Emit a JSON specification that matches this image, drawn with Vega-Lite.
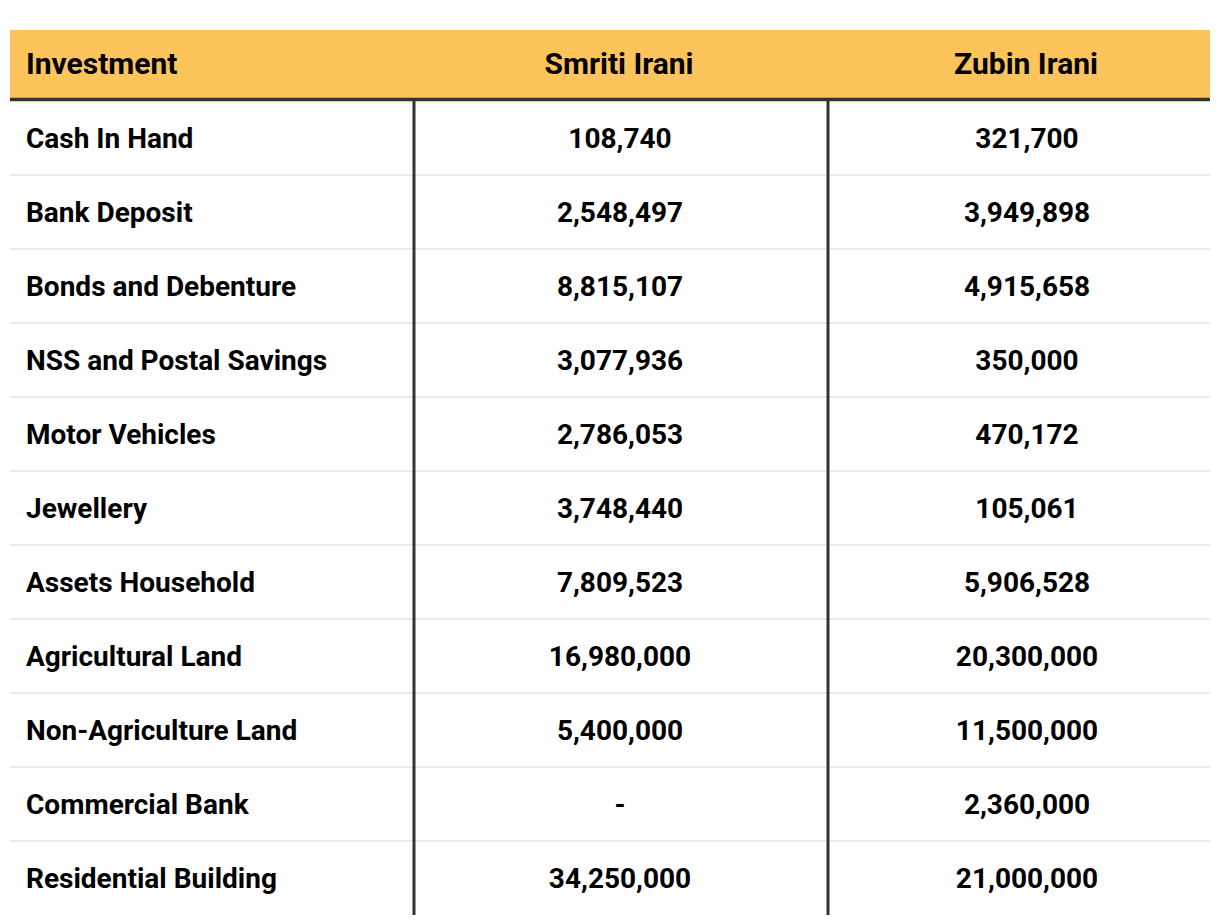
{
  "$schema": "https://vega.github.io/schema/vega-lite/v6.json",
  "background": "white",
  "bounds": "flush",
  "padding": {"left": 8, "top": 30, "right": 10, "bottom": 0},
  "spacing": 0,
  "config": {
    "view": {"stroke": null},
    "text": {"font": "Roboto", "fontWeight": "bold", "fontSize": 28, "color": "#000000"}
  },
  "datasets": {
    "assets": [
      {"Investment": "Cash In Hand", "Smriti": 108740, "Zubin": 321700},
      {"Investment": "Bank Deposit", "Smriti": 2548497, "Zubin": 3949898},
      {"Investment": "Bonds and Debenture", "Smriti": 8815107, "Zubin": 4915658},
      {"Investment": "NSS and Postal Savings", "Smriti": 3077936, "Zubin": 350000},
      {"Investment": "Motor Vehicles", "Smriti": 2786053, "Zubin": 470172},
      {"Investment": "Jewellery", "Smriti": 3748440, "Zubin": 105061},
      {"Investment": "Assets Household", "Smriti": 7809523, "Zubin": 5906528},
      {"Investment": "Agricultural Land", "Smriti": 16980000, "Zubin": 20300000},
      {"Investment": "Non-Agriculture Land", "Smriti": 5400000, "Zubin": 11500000},
      {"Investment": "Commercial Bank", "Smriti": null, "Zubin": 2360000},
      {"Investment": "Residential Building", "Smriti": 34250000, "Zubin": 21000000}
    ],
    "columns": [
      {"column": "Investment"},
      {"column": "Smriti Irani"},
      {"column": "Zubin Irani"}
    ]
  },
  "vconcat": [
    {
      "width": 1200,
      "height": 71,
      "view": {"fill": "#FEC45C", "stroke": null},
      "data": {"name": "columns"},
      "layer": [
        {
          "transform": [{"filter": "datum.column == 'Investment'"}],
          "mark": {"type": "text", "align": "left", "dx": 16, "dy": -1, "fontSize": 30},
          "encoding": {
            "x": {"datum": "Investment", "type": "nominal", "bandPosition": 0, "axis": null,
                  "scale": {"type": "band", "domain": ["Investment", "Smriti Irani", "Zubin Irani"], "paddingInner": 0, "paddingOuter": 0}},
            "text": {"field": "column", "type": "nominal"}
          }
        },
        {
          "transform": [{"filter": "datum.column == 'Smriti Irani'"}],
          "mark": {"type": "text", "align": "center", "dx": 9, "dy": -1, "fontSize": 30},
          "encoding": {
            "x": {"datum": "Smriti Irani", "type": "nominal", "axis": null},
            "text": {"field": "column", "type": "nominal"}
          }
        },
        {
          "transform": [{"filter": "datum.column == 'Zubin Irani'"}],
          "mark": {"type": "text", "align": "center", "dx": 16, "dy": -1, "fontSize": 30},
          "encoding": {
            "x": {"datum": "Zubin Irani", "type": "nominal", "axis": null},
            "text": {"field": "column", "type": "nominal"}
          }
        }
      ]
    },
    {
      "width": 1200,
      "height": 814,
      "data": {"name": "assets"},
      "layer": [
        {
          "transform": [{"filter": "datum.Investment != 'Cash In Hand'"}],
          "mark": {"type": "rule", "color": "#ebebeb", "strokeWidth": 1.8},
          "encoding": {
            "y": {"field": "Investment", "type": "nominal", "bandPosition": 0, "axis": null,
                  "scale": {"domain": ["Cash In Hand", "Bank Deposit", "Bonds and Debenture", "NSS and Postal Savings", "Motor Vehicles", "Jewellery", "Assets Household", "Agricultural Land", "Non-Agriculture Land", "Commercial Bank", "Residential Building"], "paddingInner": 0, "paddingOuter": 0}}
          }
        },
        {
          "mark": {"type": "text", "align": "left", "dx": 16, "dy": 2},
          "encoding": {
            "x": {"datum": "Investment", "type": "nominal", "bandPosition": 0, "axis": null,
                  "scale": {"type": "band", "domain": ["Investment", "Smriti Irani", "Zubin Irani"], "paddingInner": 0, "paddingOuter": 0}},
            "y": {"field": "Investment", "type": "nominal", "axis": null},
            "text": {"field": "Investment", "type": "nominal"}
          }
        },
        {
          "mark": {"type": "text", "align": "center", "dx": 10, "dy": 2},
          "encoding": {
            "x": {"datum": "Smriti Irani", "type": "nominal", "axis": null},
            "y": {"field": "Investment", "type": "nominal", "axis": null},
            "text": {"condition": {"test": "datum.Smriti == null", "value": "-"}, "field": "Smriti", "type": "quantitative", "format": ","}
          }
        },
        {
          "mark": {"type": "text", "align": "center", "dx": 17, "dy": 2},
          "encoding": {
            "x": {"datum": "Zubin Irani", "type": "nominal", "axis": null},
            "y": {"field": "Investment", "type": "nominal", "axis": null},
            "text": {"field": "Zubin", "type": "quantitative", "format": ","}
          }
        },
        {
          "transform": [{"filter": "datum.Investment == 'Cash In Hand'"}],
          "mark": {"type": "rule", "color": "#333333", "strokeWidth": 3, "xOffset": 4},
          "encoding": {"x": {"datum": "Smriti Irani", "type": "nominal", "bandPosition": 0, "axis": null}}
        },
        {
          "transform": [{"filter": "datum.Investment == 'Cash In Hand'"}],
          "mark": {"type": "rule", "color": "#333333", "strokeWidth": 3, "xOffset": 18},
          "encoding": {"x": {"datum": "Zubin Irani", "type": "nominal", "bandPosition": 0, "axis": null}}
        },
        {
          "transform": [{"filter": "datum.Investment == 'Cash In Hand'"}],
          "mark": {"type": "rule", "color": "#333333", "strokeWidth": 3.5, "yOffset": -1.5},
          "encoding": {"y": {"field": "Investment", "type": "nominal", "bandPosition": 0, "axis": null}}
        }
      ]
    }
  ]
}
